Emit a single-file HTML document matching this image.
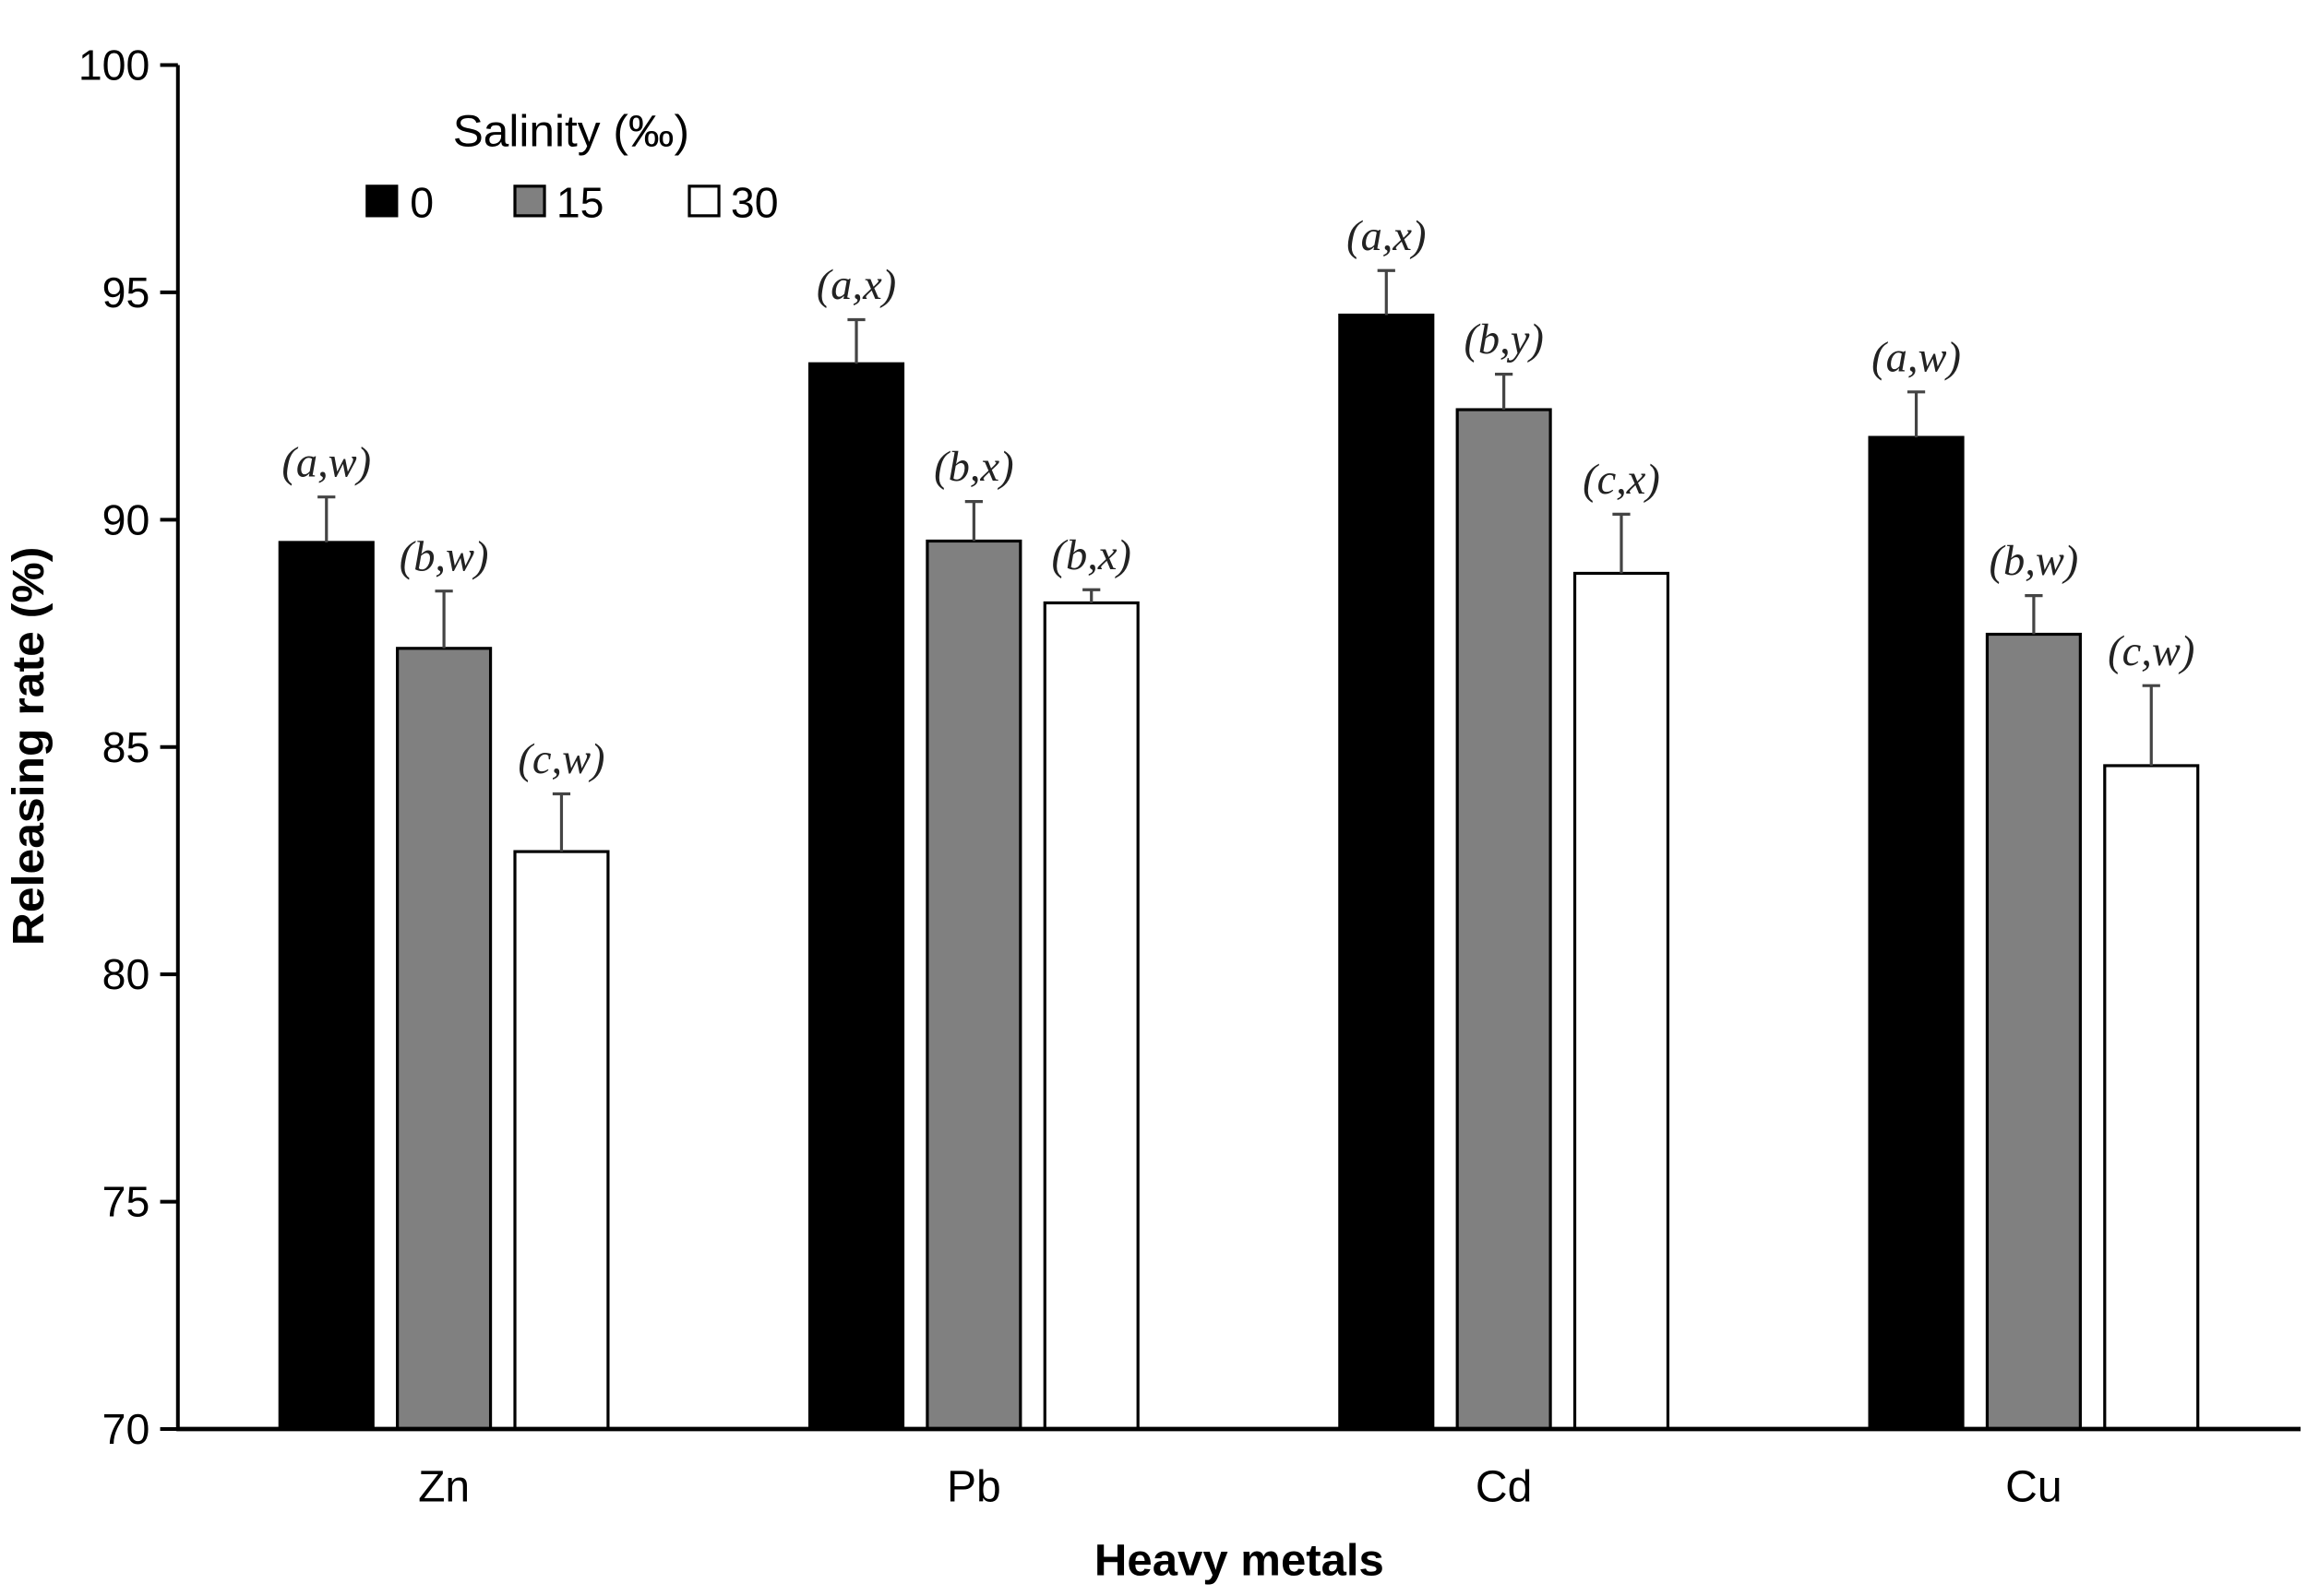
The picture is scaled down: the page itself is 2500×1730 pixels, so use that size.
<!DOCTYPE html>
<html><head><meta charset="utf-8"><style>
html,body{margin:0;padding:0;background:#fff;}
svg{display:block;}
text{font-family:"Liberation Sans",sans-serif;}
.lab{font-family:"Liberation Serif",serif;font-style:italic;font-size:29px;fill:#222;}
</style></head><body>
<svg id="chart" width="2500" height="1730" viewBox="0 0 1560 1080" xmlns="http://www.w3.org/2000/svg">
<g id="axes"></g><g id="bars"></g>
<g>
<text x="306" y="99" font-size="30" textLength="160" lengthAdjust="spacingAndGlyphs">Salinity (‰)</text>
<rect x="248" y="126" width="20" height="20" fill="#000" stroke="#000" stroke-width="2"/>
<text x="277" y="147" font-size="29">0</text>
<rect x="348" y="126" width="20" height="20" fill="#808080" stroke="#000" stroke-width="2"/>
<text x="376" y="147" font-size="29">15</text>
<rect x="466" y="126" width="20" height="20" fill="#fff" stroke="#000" stroke-width="2"/>
<text x="494" y="147" font-size="29">30</text>
</g>
<text transform="translate(29,505) rotate(-90)" text-anchor="middle" font-size="30" font-weight="bold" textLength="270" lengthAdjust="spacingAndGlyphs">Releasing rate (%)</text>
<text x="838" y="1066" text-anchor="middle" font-size="30" font-weight="bold" textLength="196" lengthAdjust="spacingAndGlyphs">Heavy metals</text>
</svg>
<script>
const categories = ["Zn","Pb","Cd","Cu"];
const series = ["0","15","30"];
const values0 = [89.5, 93.43, 94.5, 91.81];
const values15 = [87.17, 89.53, 92.42, 87.48];
const values30 = [82.7, 88.17, 88.82, 84.59];
const err0 = [1.0, 0.97, 0.98, 1.0];
const err15 = [1.26, 0.87, 0.78, 0.85];
const err30 = [1.27, 0.29, 1.3, 1.76];
const labels0 = ["(a,w)","(a,x)","(a,x)","(a,w)"];
const labels15 = ["(b,w)","(b,x)","(b,y)","(b,w)"];
const labels30 = ["(c,w)","(b,x)","(c,x)","(c,w)"];
const yTicks = [70,75,80,85,90,95,100];

const NS="http://www.w3.org/2000/svg";
const y0=967, y1=44, vmin=70, vmax=100;
function yScale(v){return y0-(v-vmin)/(vmax-vmin)*(y0-y1);}
function xCenter(i){return 300+i*358.5;}
function mk(tag,attrs,parent){const e=document.createElementNS(NS,tag);for(const k in attrs)e.setAttribute(k,attrs[k]);parent.appendChild(e);return e;}
const axes=document.getElementById('axes'), bars=document.getElementById('bars');
let e=mk('line',{x1:120,y1:y1,x2:120,y2:y0+1,stroke:'#000','stroke-width':2.5},axes);


yTicks.forEach(t=>{
  let l=mk('line',{x1:108,x2:120,y1:yScale(t),y2:yScale(t),stroke:'#000','stroke-width':2.5},axes);
  
  
  let tx=mk('text',{x:101,y:yScale(t)+10,'text-anchor':'end','font-size':29},axes);
  tx.textContent=t;
  
  
});
const vals=[values0,values15,values30], errs=[err0,err15,err30], labs=[labels0,labels15,labels30];
const fills=['#000','#808080','#fff'];
categories.forEach((c,i)=>{
  series.forEach((s,j)=>{
    const cx=xCenter(i)+(j-1)*79.5, w=63, v=vals[j][i], top=yScale(v), et=yScale(v+errs[j][i]);
    let r=mk('rect',{x:cx-w/2,y:top,width:w,height:y0-top,fill:fills[j],stroke:'#000','stroke-width':2},bars);
    
    
    let el=mk('line',{x1:cx,x2:cx,y1:top,y2:et,stroke:'#444','stroke-width':2},bars);
    
    
    let ec=mk('line',{x1:cx-6,x2:cx+6,y1:et,y2:et,stroke:'#444','stroke-width':2},bars);
    
    
    let lt=mk('text',{x:cx,y:et-14,'text-anchor':'middle','class':'lab'},bars);
    lt.textContent=labs[j][i];
    
    
  });
  let ct=mk('text',{x:xCenter(i),y:1016,'text-anchor':'middle','font-size':30},axes);
  ct.textContent=c;
  
  
});
e=mk('line',{x1:119,y1:y0,x2:1556,y2:y0,stroke:'#000','stroke-width':3},bars);


</script>
</body></html>
